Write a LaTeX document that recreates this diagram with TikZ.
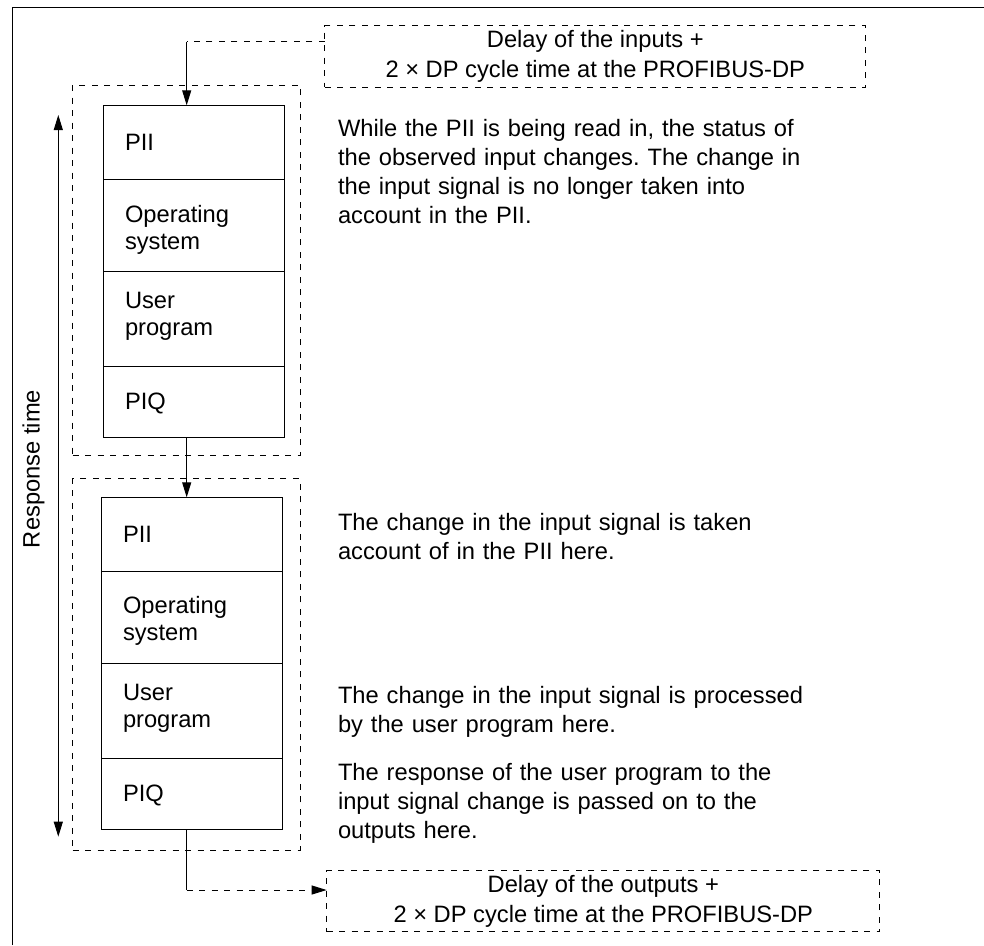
\documentclass[tikz,border=0pt]{standalone}
\usepackage{fontspec}
\setmainfont{Liberation Sans}
\usetikzlibrary{arrows.meta}
\frenchspacing
\begin{document}
\begin{tikzpicture}[x=1pt,y=-1pt,
  font=\fontsize{23.7pt}{29pt}\selectfont,
  every node/.style={inner sep=0pt, outer sep=0pt},
  >={Triangle[length=15pt,width=9pt]},
  dsh/.style={line width=1pt, dash pattern=on 6pt off 6.5pt},
  cell/.style={draw, line width=1pt, minimum width=181pt, anchor=north west},
  grp/.style={draw, dsh, minimum width=227.3pt, anchor=north west},
  dbox/.style={draw, dsh, align=center, font=\fontsize{23.7pt}{30pt}\selectfont},
  lbl/.style={anchor=base west, align=left, text width=160pt, font=\fontsize{23.7pt}{27pt}\selectfont},
  para/.style={anchor=base west, align=left, text width=560pt},
  conn/.style={line width=1pt}
]
\useasboundingbox (0,0) rectangle (984,945);
% frame
\draw[line width=1.2pt] (12.7,945) -- (12.7,7.3) -- (984,7.3);

% groups
\node[grp, minimum height=370.3pt] (g1) at (72.7,85) {};
\node[grp, minimum height=371.3pt] (g2) at (72.7,478.7) {};

% block 1
\node[cell, minimum height=73.7pt] (a1) at (103.7,105.3) {};
\node[cell, minimum height=92pt]   (a2) at (103.7,179) {};
\node[cell, minimum height=95pt]   (a3) at (103.7,271) {};
\node[cell, minimum height=71.3pt] (a4) at (103.7,366) {};
\node[lbl] (a1t) at (125,150.7) {PII};
\node[lbl] (a2t) at (125,222) {Operating\\system};
\node[lbl] (a3t) at (125,308.5) {User\\program};
\node[lbl] (a4t) at (125,409) {PIQ};

% block 2
\node[cell, minimum height=73.7pt] (b1) at (101.3,497.3) {};
\node[cell, minimum height=92pt]   (b2) at (101.3,571) {};
\node[cell, minimum height=95pt]   (b3) at (101.3,663) {};
\node[cell, minimum height=71.3pt] (b4) at (101.3,758) {};
\node[lbl] (b1t) at (123,542.7) {PII};
\node[lbl] (b2t) at (123,613.3) {Operating\\system};
\node[lbl] (b3t) at (123,700.5) {User\\program};
\node[lbl] (b4t) at (123,801.7) {PIQ};

% delay boxes
\node[dbox, minimum width=540.7pt, minimum height=61.6pt] (tb) at (595.3,56.5)
  {Delay of the inputs +\\2 × DP cycle time at the PROFIBUS-DP};
\node[dbox, minimum width=553.3pt, minimum height=61pt] (bb) at (603.3,901.2)
  {Delay of the outputs +\\2 × DP cycle time at the PROFIBUS-DP};

% helper coordinates
\coordinate (cx) at (186.7,0);
\coordinate (yin) at (0,41.7);
\coordinate (yout) at (0,890);
\coordinate (rtop) at (58.3,115);
\coordinate (rbot) at (58.3,836.7);

% connectors
\draw[dsh] (tb.west |- yin) -- (cx |- yin);
\draw[conn,->] (cx |- yin) -- (cx |- a1.north);
\draw[conn,->] (cx |- a4.south) -- (cx |- b1.north);
\draw[conn] (cx |- b4.south) -- (cx |- yout);
\draw[dsh,->] (cx |- yout) -- (bb.west |- yout);

% response time
\draw[conn,<->] (rtop) -- (rbot);
\node[rotate=90, anchor=base] (rt) at (39.5,469) {Response time};

% explanations
\node[para] (t1) at (338,136) {While the PII is being read in, the status of\\the observed input changes. The change in\\the input signal is no longer taken into\\account in the PII.};
\node[para] (t2) at (338,530.7) {The change in the input signal is taken\\account of in the PII here.};
\node[para] (t3) at (338,703) {The change in the input signal is processed\\by the user program here.};
\node[para] (t4) at (338,780) {The response of the user program to the\\input signal change is passed on to the\\outputs here.};
\end{tikzpicture}
\end{document}
